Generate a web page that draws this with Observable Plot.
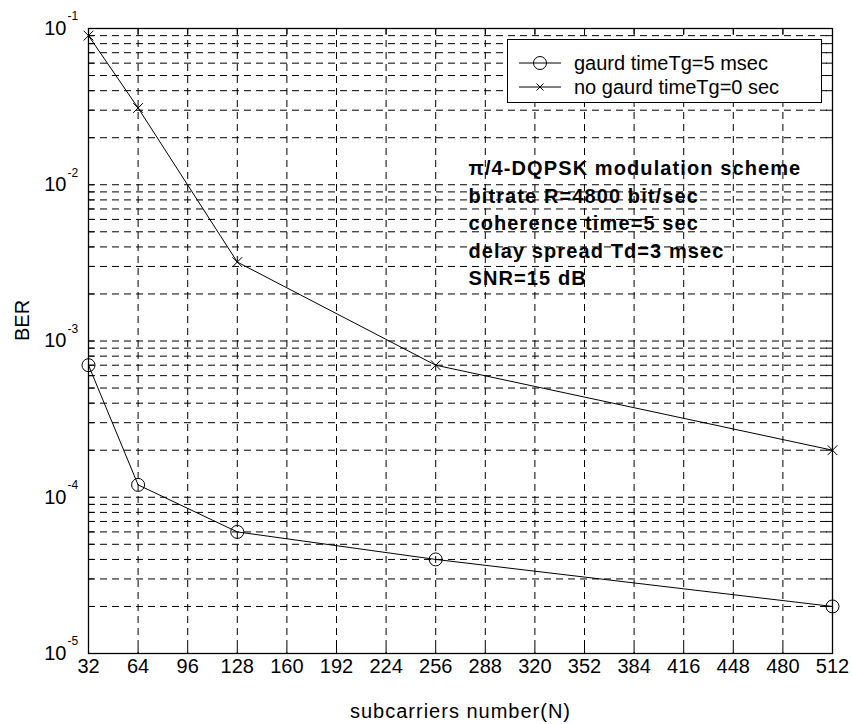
<!DOCTYPE html>
<html>
<head>
<meta charset="utf-8">
<script src="https://cdn.jsdelivr.net/npm/d3@7"></script>
<script src="https://cdn.jsdelivr.net/npm/@observablehq/plot@0.6"></script>
<style>
  html, body { margin: 0; padding: 0; background: #fff; }
  #wrap { position: relative; width: 852px; height: 724px; font-family: "Liberation Sans", Arial, Helvetica, sans-serif; }
  #legend { position: absolute; left: 507px; top: 39px; width: 313px; height: 62px; border: 1px solid #000; background: #fff; }
  .row { position: absolute; left: 0; height: 24px; width: 100%; }
  .row svg { position: absolute; left: 0; top: 0; }
  .row span { position: absolute; left: 66px; top: 0; font-size: 20px; line-height: 24px; white-space: nowrap; color: #000; }
  .annot text, .annot tspan { letter-spacing: 1.1px; }
  .xlab text { letter-spacing: 1px; }
</style>
</head>
<body>
<div id="wrap"></div>
<script>
// ---- data ----
const subcarriers = [32, 64, 128, 256, 512];
const berGuard   = [7e-4, 1.2e-4, 6e-5, 4e-5, 2e-5];     // gaurd timeTg=5 msec
const berNoGuard = [0.09, 0.031, 0.0032, 7e-4, 2e-4];    // no gaurd timeTg=0 sec
const xTicks = [32, 64, 96, 128, 160, 192, 224, 256, 288, 320, 352, 384, 416, 448, 480, 512];
const yDecades = [1e-5, 1e-4, 1e-3, 1e-2, 1e-1];
const yExponents = ["-5", "-4", "-3", "-2", "-1"];
const seriesNames = ["gaurd timeTg=5 msec", "no gaurd timeTg=0 sec"];
const annotation = [
  "\u03C0/4-DQPSK modulation scheme",
  "bitrate R=4800 bit/sec",
  "coherence time=5 sec",
  "delay spread Td=3 msec",
  "SNR=15 dB"
];
const xLabel = "subcarriers number(N)";
const yLabel = "BER";

// log grid positions (decades and their minor multiples)
const yGrid = [];
yDecades.forEach((d, i) => {
  if (i < yDecades.length - 1) for (let k = 1; k <= 9; k++) yGrid.push(d * k);
  else yGrid.push(d);
});

const guardData = subcarriers.map((n, i) => ({n, ber: berGuard[i]}));
const noGuardData = subcarriers.map((n, i) => ({n, ber: berNoGuard[i]}));

const W = 852, H = 724, mL = 88, mR = 20, mT = 28, mB = 71;
const plotW = W - mL - mR, plotH = H - mT - mB;
const tick = 6;
const font = 20;

const chart = Plot.plot({
  width: W, height: H,
  marginLeft: mL, marginRight: mR, marginTop: mT, marginBottom: mB,
  x: {domain: [32, 512], axis: null},
  y: {type: "log", domain: [1e-5, 1e-1], axis: null},
  style: {fontFamily: "'Liberation Sans', Arial, Helvetica, sans-serif", background: "white", color: "black"},
  marks: [
    // dashed grid
    Plot.ruleY(yGrid, {y: d => d, stroke: "black", strokeWidth: 1, strokeDasharray: "7,5"}),
    Plot.ruleX(xTicks.slice(1, -1), {x: d => d, stroke: "black", strokeWidth: 1, strokeDasharray: "7,5"}),
    // inward ticks on all four sides
    Plot.ruleX(xTicks, {x: d => d, stroke: "black", insetTop: plotH - tick}),
    Plot.ruleX(xTicks, {x: d => d, stroke: "black", insetBottom: plotH - tick}),
    Plot.ruleY(yGrid, {y: d => d, stroke: "black", insetRight: plotW - tick}),
    Plot.ruleY(yGrid, {y: d => d, stroke: "black", insetLeft: plotW - tick}),
    Plot.frame({stroke: "black", strokeWidth: 1.3}),
    // series
    Plot.line(noGuardData, {x: "n", y: "ber", stroke: "black", strokeWidth: 1}),
    Plot.line(guardData, {x: "n", y: "ber", stroke: "black", strokeWidth: 1}),
    Plot.dot(guardData, {x: "n", y: "ber", r: 6.5, stroke: "black", fill: "none", strokeWidth: 1}),
    Plot.dot(noGuardData, {x: "n", y: "ber", symbol: "times", r: 4.5, stroke: "black", strokeWidth: 1}),
    // annotation
    Plot.text([annotation.join("\n")], {
      frameAnchor: "top-left", dx: 380, dy: 127, lineAnchor: "top", textAnchor: "start",
      lineHeight: 1.38, fontSize: font, fontWeight: "bold", fill: "black",
      className: "annot"
    }),
    // x tick labels
    Plot.text(xTicks, {x: d => d, text: d => String(d), frameAnchor: "bottom", dy: 19, fontSize: font, fill: "black"}),
    // y tick labels 10^k
    Plot.text(yDecades, {y: d => d, text: () => "10", frameAnchor: "left", textAnchor: "end", dx: -22, fontSize: font, fill: "black"}),
    Plot.text(yDecades, {y: d => d, text: (d, i) => yExponents[i], frameAnchor: "left", textAnchor: "start", dx: -21, dy: -12, fontSize: 12, fill: "black"}),
    // axis labels
    Plot.text([xLabel], {frameAnchor: "bottom", dy: 64, fontSize: font, fill: "black", className: "xlab"}),
    Plot.text([yLabel], {frameAnchor: "left", dx: -66, rotate: -90, fontSize: font, fill: "black"})
  ]
});

const wrap = document.getElementById("wrap");
wrap.appendChild(chart);

// legend (MATLAB style box)
const legend = document.createElement("div");
legend.id = "legend";
const rowTops = [11, 35];
seriesNames.forEach((name, i) => {
  const row = document.createElement("div");
  row.className = "row";
  row.style.top = rowTops[i] + "px";
  const marker = i === 0
    ? '<circle cx="32" cy="12" r="6.5" fill="none" stroke="black"/>'
    : '<path d="M28.5,8.5L35.5,15.5M35.5,8.5L28.5,15.5" stroke="black"/>';
  row.innerHTML = '<svg width="60" height="24"><line x1="11" y1="12" x2="53" y2="12" stroke="black"/>' + marker + '</svg><span>' + name + '</span>';
  legend.appendChild(row);
});
wrap.appendChild(legend);
</script>
</body>
</html>
